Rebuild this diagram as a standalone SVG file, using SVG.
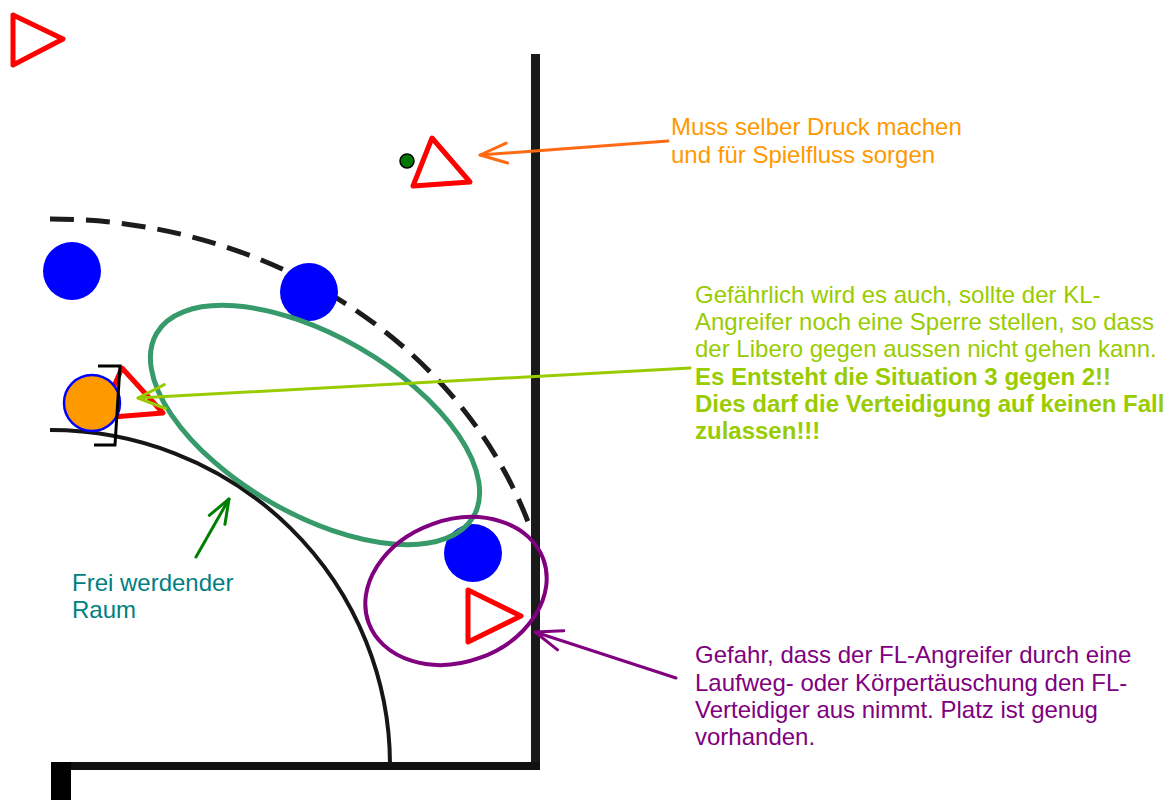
<svg xmlns="http://www.w3.org/2000/svg" width="1173" height="800" viewBox="0 0 1173 800">
<style>
  .txt { font-family: "Liberation Sans", Arial, sans-serif; font-size: 24px; }
  .b { font-weight: bold; }
  .tri { fill: none; stroke: #FF0000; stroke-width: 5; stroke-linejoin: round; }
  .blue { fill: #0000FF; }
  .conn { fill: none; stroke-width: 3; stroke-linecap: round; }
</style>
<defs>
  <marker id="ahOrange" markerUnits="userSpaceOnUse" viewBox="-30 -14 34 28" markerWidth="34" markerHeight="28" refX="0" refY="0" orient="auto">
    <path d="M-27,-10 L0,0 L-27,10" fill="none" stroke="#FF6A13" stroke-width="3" stroke-linecap="round" stroke-linejoin="round"/>
  </marker>
  <marker id="ahLime" markerUnits="userSpaceOnUse" viewBox="-30 -14 34 28" markerWidth="34" markerHeight="28" refX="0" refY="0" orient="auto">
    <path d="M-27,-12 L0,0 L-27,12" fill="none" stroke="#99CC00" stroke-width="3" stroke-linecap="round" stroke-linejoin="round"/>
  </marker>
  <marker id="ahPurple" markerUnits="userSpaceOnUse" viewBox="-30 -14 34 28" markerWidth="34" markerHeight="28" refX="0" refY="0" orient="auto">
    <path d="M-27,-10 L0,0 L-27,10" fill="none" stroke="#800080" stroke-width="3" stroke-linecap="round" stroke-linejoin="round"/>
  </marker>
  <marker id="ahGreen" markerUnits="userSpaceOnUse" viewBox="-30 -14 34 28" markerWidth="34" markerHeight="28" refX="0" refY="0" orient="auto">
    <path d="M-24,-9 L0,0 L-24,9" fill="none" stroke="#008000" stroke-width="3" stroke-linecap="round" stroke-linejoin="round"/>
  </marker>
</defs>
<rect width="1173" height="800" fill="#FFFFFF"/>

<g id="court">
  <rect x="531" y="54" width="9" height="716" fill="#1a1a1a"/>
  <rect x="51" y="762" width="489" height="8" fill="#111"/>
  <rect x="51" y="762" width="20" height="38" fill="#000"/>
  <path d="M50,430 A340,335 0 0 1 390,765" fill="none" stroke="#161616" stroke-width="4"/>
  <path d="M50,219 A505,450 0 0 1 530,527" fill="none" stroke="#1c1c1c" stroke-width="5" stroke-dasharray="24 12"/>
</g>

<g id="tri-topleft"><polygon class="tri" points="13,15 63,39 13,65"/></g>

<g id="attacker-top">
  <circle cx="407" cy="161" r="7" fill="#007700" stroke="#000" stroke-width="1.5"/>
  <polygon class="tri" points="432,138 470,182 413,186"/>
</g>

<g id="defender-1"><circle class="blue" cx="72" cy="271" r="29"/></g>
<g id="defender-2"><circle class="blue" cx="309" cy="292" r="29"/></g>
<g id="defender-3"><circle class="blue" cx="473" cy="553" r="29"/></g>

<g id="libero">
  <polygon class="tri" points="122,368 163,413 100,418"/>
  <circle cx="92" cy="403" r="28" fill="#FF9900" stroke="#0000FF" stroke-width="2.5"/>
  <path d="M98,366 L120,366 L115,445 L94,445" fill="none" stroke="#000" stroke-width="3"/>
</g>

<g id="attacker-fl"><polygon class="tri" points="468,590 521,616 468,642"/></g>

<g id="zone-green"><ellipse cx="315" cy="425" rx="183" ry="89" transform="rotate(30 315 425)" fill="none" stroke="#379A6A" stroke-width="5"/></g>
<g id="zone-purple"><ellipse cx="456" cy="591" rx="93" ry="71" transform="rotate(-20 456 591)" fill="none" stroke="#800080" stroke-width="4"/></g>

<g id="connectors">
  <line class="conn" x1="668" y1="141" x2="480" y2="155" stroke="#FF6A13" marker-end="url(#ahOrange)"/>
  <line class="conn" x1="690" y1="368" x2="138" y2="398" stroke="#99CC00" marker-end="url(#ahLime)"/>
  <line class="conn" x1="676" y1="678" x2="535" y2="632" stroke="#800080" marker-end="url(#ahPurple)"/>
  <line class="conn" x1="196" y1="557" x2="229" y2="499" stroke="#008000" marker-end="url(#ahGreen)"/>
</g>

<g id="label-orange" class="txt" fill="#FF9900">
  <text x="671" y="135">Muss selber Druck machen</text>
  <text x="671" y="163">und für Spielfluss sorgen</text>
</g>

<g id="label-lime" class="txt" fill="#99CC00">
  <text x="695" y="303">Gefährlich wird es auch, sollte der KL-</text>
  <text x="695" y="330">Angreifer noch eine Sperre stellen, so dass</text>
  <text x="695" y="357">der Libero gegen aussen nicht gehen kann.</text>
  <text x="695" y="385" class="b">Es Entsteht die Situation 3 gegen 2!!</text>
  <text x="695" y="412" class="b">Dies darf die Verteidigung auf keinen Fall</text>
  <text x="695" y="439" class="b">zulassen!!!</text>
</g>

<g id="label-teal" class="txt" fill="#008080">
  <text x="72" y="591">Frei werdender</text>
  <text x="72" y="618">Raum</text>
</g>

<g id="label-purple" class="txt" fill="#800080">
  <text x="695" y="663">Gefahr, dass der FL-Angreifer durch eine</text>
  <text x="695" y="691">Laufweg- oder Körpertäuschung den FL-</text>
  <text x="695" y="718">Verteidiger aus nimmt. Platz ist genug</text>
  <text x="695" y="745">vorhanden.</text>
</g>
</svg>
